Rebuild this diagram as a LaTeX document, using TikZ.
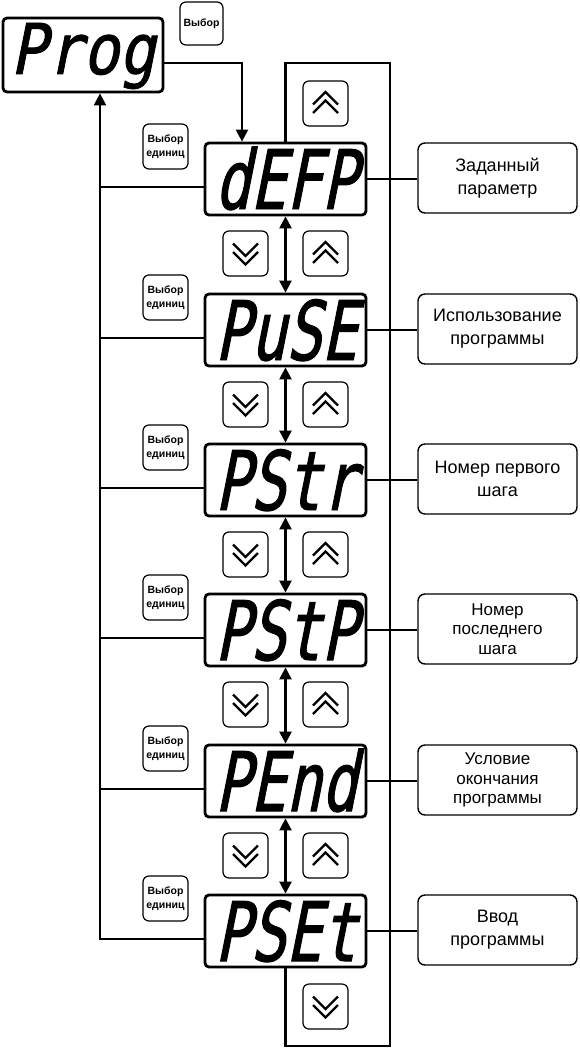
\documentclass[tikz,border=0pt]{standalone}
\usepackage{fontspec}
\setmainfont{Liberation Sans}
\newfontfamily\segfont{DejaVu Sans Mono}[FakeStretch=0.72,FakeSlant=0.2,FakeBold=1.2]
\newfontfamily\segfontP{DejaVu Sans Mono}[FakeStretch=0.86,FakeSlant=0.2,FakeBold=1.2]
\usetikzlibrary{arrows.meta,calc}
\tikzset{
  disp/.style={draw, line width=2.8pt, rounded corners=4pt, minimum width=161pt, minimum height=72pt, inner sep=0pt},
  segtxt/.style={font=\segfont\fontsize{82}{82}\selectfont, inner sep=0pt, anchor=base},
  segtxtP/.style={segtxt, font=\segfontP\fontsize{70}{70}\selectfont},
  btn/.style={draw, line width=1.2pt, rounded corners=6pt, minimum width=45pt, minimum height=45pt, inner sep=0pt},
  btntxt/.style={btn, align=center, font=\bfseries\fontsize{10.5}{13.5}\selectfont},
  lbl/.style={draw, line width=1.4pt, rounded corners=7pt, minimum width=159pt, minimum height=70pt, inner sep=0pt, align=center, font=\fontsize{18}{23}\selectfont},
  lblthree/.style={lbl, font=\fontsize{17}{19.5}\selectfont},
  wire/.style={line width=2.4pt},
  arr/.style={wire, -{Triangle[length=12pt,width=12pt]}},
  darr/.style={wire, {Triangle[length=12pt,width=12pt]}-{Triangle[length=12pt,width=12pt]}},
  chevup/.pic={\draw[line width=2.2pt, line join=miter] (-12.5,1)--(0,-11.5)--(12.5,1) (-12.5,9.5)--(0,-3)--(12.5,9.5);},
  chevdn/.pic={\draw[line width=2.2pt, line join=miter] (-12.5,-10)--(0,2.5)--(12.5,-10) (-12.5,-1.5)--(0,11)--(12.5,-1.5);}
}
\begin{document}
\begin{tikzpicture}[x=1pt, y=-1pt]
\useasboundingbox (0,0) rectangle (579,1049);
% top display
\node[disp, minimum width=160pt, minimum height=74pt] (P) at (83,55) {};
\node[segtxtP] (tP) at (83,74) {Prog};
\node[btntxt, minimum width=43pt, minimum height=43pt] (bsel) at (201.5,23.5) {Выбор};
% displays
\foreach \k/\T/\txt in {0/143/dEFP, 1/294/PuSE, 2/444/PStr, 3/594/PStP, 4/745/PEnd, 5/895/PSEt}{
  \node[disp] (d\k) at (285.5,\T+36) {};
  \node[segtxt] (t\k) at (286,\T+66) {\txt};
  \node[btntxt] (u\k) at (165.5,\T+3.5) {Выбор\\единиц};
}
% description boxes
\node[lbl] (e0) at (497.5,178) {Заданный\\параметр};
\node[lbl] (e1) at (497.5,329) {Использование\\программы};
\node[lbl] (e2) at (497.5,479) {Номер первого\\шага};
\node[lblthree] (e3) at (497.5,629) {Номер\\последнего\\шага};
\node[lblthree] (e4) at (497.5,780) {Условие\\окончания\\программы};
\node[lbl] (e5) at (497.5,930) {Ввод\\программы};
% chevron buttons
\node[btn] (ut) at (325.5,103.5) {};
\pic at (ut) {chevup};
\foreach \k/\T in {0/143, 1/294, 2/444, 3/594, 4/745}{
  \node[btn] (dn\k) at (245.5,\T+110.5) {};
  \node[btn] (up\k) at (325.5,\T+110.5) {};
  \pic at (dn\k) {chevdn};
  \pic at (up\k) {chevup};
}
\node[btn] (db) at (325.5,1006.5) {};
\pic at (db) {chevdn};
% wires
\coordinate (pj) at (242,63);
\coordinate (lb) at (100,0);
\coordinate (lr) at (390,1046);
\coordinate (lt) at (390,63);
\draw[arr] ($(P.east)+(0,8)$) -- (pj) -- (pj |- d0.north);
\draw[arr, line join=miter] ($(d5.west)+(0,8)$) -| ($(P.south)+(17,0)$);
\foreach \k in {0,...,4}{
  \draw[wire] ($(d\k.west)+(0,8)$) coordinate (l\k) -- (l\k -| lb);
}
\foreach \k in {0,...,5}{
  \draw[wire] (d\k.east) -- (d\k.east -| e\k.west);
}
\foreach \a/\b in {0/1,1/2,2/3,3/4,4/5}{
  \draw[darr] (d\a.south) -- (d\b.north);
}
\draw[wire, line join=miter] (d5.south) |- (lr) -- (lt) -| (d0.north);
\end{tikzpicture}
\end{document}
